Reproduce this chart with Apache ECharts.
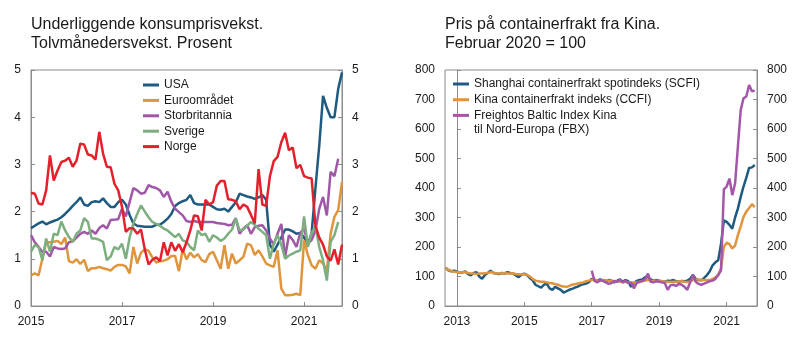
<!DOCTYPE html>
<html>
<head>
<meta charset="utf-8">
<script src="https://cdn.jsdelivr.net/npm/echarts@6/dist/echarts.min.js"></script>
<style>
html,body{margin:0;padding:0;background:#fff;}
#chart{width:797px;height:343px;}
</style>
</head>
<body>
<div id="chart"></div>
<script>
// ---------- Left chart: monthly, Jan 2015 = 0 ----------
const leftStartYear = 2015;
const leftXTicks = [0, 24, 48, 72];
const leftYTicks = [0, 1, 2, 3, 4, 5];
const usa = [1.65,1.7,1.75,1.79,1.73,1.77,1.8,1.83,1.88,1.95,2.03,2.12,
 2.2,2.3,2.15,2.12,2.2,2.22,2.2,2.28,2.18,2.1,2.1,2.2,
 2.25,2.15,1.93,1.75,1.7,1.69,1.68,1.68,1.68,1.72,1.72,1.78,
 1.85,1.95,2.12,2.18,2.22,2.25,2.35,2.18,2.15,2.15,2.15,2.15,
 2.1,2.05,2.04,2.06,2.0,2.1,2.2,2.38,2.35,2.32,2.3,2.27,
 2.3,2.35,2.25,1.3,1.15,1.3,1.45,1.62,1.62,1.58,1.53,1.55,
 1.45,1.3,1.55,2.5,3.4,4.45,4.2,4.0,4.0,4.6,4.95];
const euro = [0.65,0.69,0.65,1.0,1.35,1.35,1.36,1.38,1.31,1.45,0.95,0.92,
 0.99,0.89,0.98,0.74,0.8,0.8,0.83,0.8,0.78,0.75,0.83,0.87,
 0.87,0.84,0.69,1.25,0.9,1.13,1.2,1.17,1.03,0.92,0.95,0.96,
 0.99,1.06,1.06,0.74,1.2,0.99,1.13,1.03,1.1,0.97,0.93,1.1,
 1.15,0.97,0.79,1.29,0.79,1.11,0.9,0.97,1.04,1.32,1.29,1.08,
 1.18,1.05,0.9,0.86,0.83,1.18,0.37,0.23,0.23,0.24,0.26,0.23,
 1.39,1.08,0.86,0.79,0.97,0.9,0.75,1.53,1.89,2.03,2.63];
const uk = [1.5,1.35,1.25,1.15,1.15,1.05,1.25,1.22,1.21,1.22,1.35,1.37,
 1.45,1.53,1.57,1.53,1.6,1.53,1.65,1.71,1.64,1.82,1.83,1.84,
 2.06,1.9,2.2,2.5,2.45,2.38,2.4,2.56,2.52,2.5,2.45,2.31,
 2.42,2.21,2.06,1.99,1.92,1.8,1.78,1.8,1.78,1.78,1.78,1.78,
 1.78,1.76,1.75,1.74,1.71,1.72,1.86,1.53,1.64,1.71,1.53,1.67,
 1.7,1.71,1.6,1.43,1.3,1.53,1.74,1.04,1.5,1.4,1.25,1.55,
 1.64,1.32,1.4,1.6,2.06,2.31,1.92,2.84,2.75,3.12];
const sverige = [1.15,1.29,1.25,0.97,1.43,1.15,1.53,1.5,1.79,1.6,1.46,1.36,
 1.53,1.6,1.86,1.78,1.43,1.43,1.4,1.36,0.97,1.05,1.25,1.2,
 1.32,1.0,1.45,1.75,1.95,2.13,2.0,1.88,1.78,1.74,1.7,1.64,
 1.6,1.53,1.46,1.53,1.39,1.36,1.25,1.18,1.6,1.5,1.53,1.36,
 1.5,1.45,1.38,1.43,1.53,1.62,1.85,1.6,1.62,1.7,1.78,1.72,
 1.64,1.57,1.5,1.0,1.32,1.5,1.3,1.0,1.07,1.11,1.15,1.18,
 1.9,1.25,1.55,1.7,1.25,0.97,0.54,1.36,1.5,1.78];
const norge = [2.4,2.38,2.17,2.15,2.45,3.19,2.66,2.87,3.05,3.08,3.14,2.95,
 3.08,3.44,3.42,3.21,3.19,3.1,3.69,3.23,2.95,2.94,2.59,2.45,
 2.1,1.57,1.65,1.64,1.53,1.62,1.2,0.88,0.98,1.03,0.95,1.35,
 1.07,1.35,1.17,1.31,1.14,1.35,1.6,1.92,1.9,1.6,2.25,2.15,
 2.2,2.55,2.65,2.65,2.26,2.25,2.22,2.05,2.15,2.1,1.93,1.75,
 2.9,2.15,2.12,2.75,3.07,3.16,3.47,3.67,3.3,3.36,2.92,2.99,
 2.75,2.72,2.7,1.7,1.45,1.3,1.05,0.96,1.2,0.88,1.3];
const leftNames = ['USA', 'Euroområdet', 'Storbritannia', 'Sverige', 'Norge'];

// ---------- Right chart: monthly, Jan 2013 = 0 ----------
const rightStartYear = 2013;
const rightXTicks = [0, 24, 48, 72, 96];
const scfiStart = -4;
const scfi = [130,121,118,120,
 117,112,114,117,108,104,112,115,100,92,105,112,
 120,112,110,108,112,110,115,112,110,104,98,106,
 110,105,95,87,72,67,62,72,76,60,55,65,
 60,55,45,50,55,58,62,66,71,74,76,81,
 92,88,85,90,87,82,88,86,80,85,90,82,
 88,84,65,78,85,88,90,98,98,90,85,88,
 86,84,82,86,85,88,84,82,85,84,86,92,
 105,92,88,87,95,105,118,138,148,155,210,290,
 285,275,262,300,330,370,405,435,468,470,478];
const ccfiStart = -4;
const ccfi = [130,123,118,116,
 115,113,114,115,112,110,110,108,110,110,111,112,
 115,113,110,110,111,112,110,110,111,108,108,107,
 108,106,100,92,86,84,82,82,80,78,77,74,
 72,68,66,65,68,72,74,76,78,80,84,86,
 88,90,86,85,88,87,86,84,85,83,84,80,
 82,80,78,80,80,82,84,86,88,86,85,86,
 85,84,82,82,81,82,82,83,84,82,81,83,
 88,90,90,88,88,87,88,92,97,105,128,200,
 215,210,195,205,240,270,302,320,332,345,335];
const fbxStart = 48;
const fbx = [120,85,80,88,85,80,75,78,85,82,88,80,
 85,78,80,60,78,82,85,90,110,82,80,84,
 82,80,78,55,70,72,68,75,72,65,55,80,
 105,82,75,72,76,80,84,86,92,105,121,395,
 405,432,376,415,540,664,704,710,749,728,730];
const rightNames = ['Shanghai containerfrakt spotindeks (SCFI)', 'Kina containerfrakt indeks (CCFI)', 'Freightos Baltic Index Kina til Nord-Europa (FBX)'];

// ---------- build ----------
const FONT = "'Liberation Sans', Arial, Helvetica, sans-serif";
const TXT = '#1a1a1a';
const AX = '#8c8c8c';
const leftColors = ['#1f5a80', '#e0953c', '#9f58a6', '#7dae80', '#e3202b'];
const rightColors = ['#1f5a80', '#e0953c', '#a457a8'];

function pairs(arr, start) { return arr.map((v, i) => [start + i, v]); }

function xAxisDef(grid, min, max, ticks, startYear) {
  return {
    type: 'value', gridIndex: grid, min: min, max: max,
    axisLine: { show: true, lineStyle: { color: AX, width: 1 } },
    axisTick: { show: true, inside: true, length: 4, lineStyle: { color: AX }, customValues: ticks },
    axisLabel: { customValues: ticks, formatter: v => String(startYear + Math.round(v / 12)), color: TXT, fontSize: 12, fontFamily: FONT, margin: 10 },
    splitLine: { show: false }
  };
}
function yAxisDef(grid, pos, max, interval) {
  return {
    type: 'value', gridIndex: grid, position: pos, min: 0, max: max, interval: interval,
    axisLine: { show: true, lineStyle: { color: AX, width: 1 } },
    axisTick: { show: true, inside: true, length: 4, lineStyle: { color: AX } },
    axisLabel: { color: TXT, fontSize: 12, fontFamily: FONT, margin: 10 },
    splitLine: { show: false }
  };
}
function lineSeries(name, data, color, xi, yi) {
  return {
    name: name, type: 'line', xAxisIndex: xi, yAxisIndex: yi, data: data,
    showSymbol: false, symbol: 'none', smooth: false,
    lineStyle: { color: color, width: 2.5 }, itemStyle: { color: color }
  };
}

const leftData = [usa, euro, uk, sverige, norge];
const series = [];
leftData.forEach((arr, i) => series.push(lineSeries(leftNames[i], pairs(arr, 0), leftColors[i], 0, 0)));
series.push(lineSeries(rightNames[0], pairs(scfi, scfiStart), rightColors[0], 1, 2));
series.push(lineSeries(rightNames[1], pairs(ccfi, ccfiStart), rightColors[1], 1, 2));
series.push(lineSeries(rightNames[2], pairs(fbx, fbxStart), rightColors[2], 1, 2));

const option = {
  animation: false,
  backgroundColor: '#fff',
  textStyle: { fontFamily: FONT },
  title: [
    { text: 'Underliggende konsumprisvekst.\nTolvmånedersvekst. Prosent', left: 31, top: 15, padding: 0,
      textStyle: { fontSize: 16, fontWeight: 'normal', color: TXT, lineHeight: 19, fontFamily: FONT } },
    { text: 'Pris på containerfrakt fra Kina.\nFebruar 2020 = 100', left: 445, top: 15, padding: 0,
      textStyle: { fontSize: 16, fontWeight: 'normal', color: TXT, lineHeight: 19, fontFamily: FONT } }
  ],
  grid: [
    { left: 31, right: 455, top: 70, bottom: 37, show: true, borderColor: AX, borderWidth: 1, containLabel: false },
    { left: 445, right: 40, top: 70, bottom: 37, show: true, borderColor: AX, borderWidth: 1, containLabel: false }
  ],
  xAxis: [
    xAxisDef(0, 0, 82, leftXTicks, leftStartYear),
    xAxisDef(1, -4.2, 106.8, rightXTicks, rightStartYear)
  ],
  yAxis: [
    yAxisDef(0, 'left', 5, 1),
    yAxisDef(0, 'right', 5, 1),
    yAxisDef(1, 'left', 800, 100),
    yAxisDef(1, 'right', 800, 100)
  ],
  legend: [
    { data: leftNames, orient: 'vertical', left: 143, top: 79, padding: 0, itemGap: 3.4,
      icon: 'rect', itemWidth: 16, itemHeight: 3,
      textStyle: { color: TXT, fontSize: 12, fontFamily: FONT } },
    { data: rightNames, orient: 'vertical', left: 453, top: 78, padding: 0, itemGap: 3.7,
      icon: 'rect', itemWidth: 16, itemHeight: 3,
      formatter: n => n === rightNames[2] ? 'Freightos Baltic Index Kina' : n,
      textStyle: { color: TXT, fontSize: 12, fontFamily: FONT } }
  ],
  graphic: [
    { type: 'text', left: 474, top: 124, style: { text: 'til Nord-Europa (FBX)', fill: TXT, font: '12px ' + FONT } }
  ],
  series: series
};
// second y-axes need a series reference to show scale: add invisible link via same extent (min/max fixed)
const chart = echarts.init(document.getElementById('chart'));
chart.setOption(option);
</script>
</body>
</html>
